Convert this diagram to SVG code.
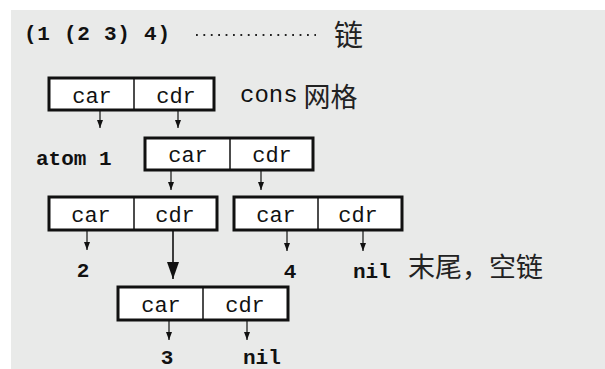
<svg xmlns="http://www.w3.org/2000/svg" width="605" height="369" viewBox="0 0 605 369">
  <style>
    .bg { fill: #e9eae9; }
    .cell { fill: #ffffff; stroke: #111111; stroke-width: 3; }
    .div { stroke: #111111; stroke-width: 1.5; }
    .mono { font-family: "Liberation Mono", "Courier New", monospace; fill: #111111; }
    .lbl { font-family: "Liberation Mono", "Courier New", monospace; font-weight: bold; fill: #111111; font-size: 21px; }
    .cjk { font-family: "Noto Sans CJK SC", "Noto Sans", sans-serif; fill: #222222; }
    .ctext { font-family: "Liberation Mono", "Courier New", monospace; font-size: 22px; fill: #111111; text-anchor: middle; }
    .arr { stroke: #111111; stroke-width: 1.2; fill: none; marker-end: url(#ah); }
    .big { stroke: #111111; stroke-width: 1.6; fill: none; marker-end: url(#bh); }
  </style>
  <defs>
    <marker id="ah" markerUnits="userSpaceOnUse" markerWidth="8" markerHeight="6" refX="8" refY="3" orient="auto">
      <path d="M0,0 L8,3 L0,6 z" fill="#111111"/>
    </marker>
    <marker id="bh" markerUnits="userSpaceOnUse" markerWidth="17" markerHeight="12" refX="17" refY="6" orient="auto">
      <path d="M0,0 L17,6 L0,12 z" fill="#111111"/>
    </marker>
  </defs>

  <rect class="bg" x="11" y="10" width="594" height="359"/>

  <g id="title">
    <text class="lbl" x="24" y="40" font-size="22" textLength="146" lengthAdjust="spacing">(1 (2 3) 4)</text>
    <line x1="196" y1="35" x2="316" y2="35" stroke="#222222" stroke-width="1.8" stroke-dasharray="1.8 5.6"/>
    <text class="cjk" x="334" y="46" font-size="29">链</text>
  </g>

  <g id="cons1">
    <rect class="cell" x="49" y="78" width="165" height="32"/>
    <line class="div" x1="134" y1="78" x2="134" y2="110"/>
    <text class="ctext" x="92" y="103">car</text>
    <text class="ctext" x="176" y="103">cdr</text>
  </g>
  <g id="cons-label">
    <text x="240" y="102" class="mono" font-size="24">cons<tspan class="cjk" font-size="27" dx="6" dy="5">网格</tspan></text>
  </g>

  <g id="cons2">
    <rect class="cell" x="145" y="138" width="168" height="32"/>
    <line class="div" x1="230" y1="138" x2="230" y2="170"/>
    <text class="ctext" x="188" y="162">car</text>
    <text class="ctext" x="272" y="162">cdr</text>
  </g>

  <g id="cons3">
    <rect class="cell" x="49" y="197" width="168" height="33"/>
    <line class="div" x1="134" y1="197" x2="134" y2="230"/>
    <text class="ctext" x="91" y="222">car</text>
    <text class="ctext" x="175" y="222">cdr</text>
  </g>

  <g id="cons4">
    <rect class="cell" x="234" y="197" width="168" height="33"/>
    <line class="div" x1="318" y1="197" x2="318" y2="230"/>
    <text class="ctext" x="276" y="222">car</text>
    <text class="ctext" x="358" y="222">cdr</text>
  </g>

  <g id="cons5">
    <rect class="cell" x="118" y="287" width="170" height="33"/>
    <line class="div" x1="203" y1="287" x2="203" y2="320"/>
    <text class="ctext" x="161" y="312">car</text>
    <text class="ctext" x="245" y="312">cdr</text>
  </g>

  <g id="atom1"><text class="lbl" x="36" y="165">atom 1</text></g>
  <g id="atom2"><text class="lbl" x="83" y="277" text-anchor="middle">2</text></g>
  <g id="atom4"><text class="lbl" x="290" y="278" text-anchor="middle">4</text></g>
  <g id="nil1">
    <text class="lbl" x="353" y="278" font-size="22">nil</text>
    <text class="cjk" x="408" y="277" font-size="27">末尾，空链</text>
  </g>
  <g id="atom3"><text class="lbl" x="167" y="364" text-anchor="middle">3</text></g>
  <g id="nil2"><text class="lbl" x="243" y="364" font-size="22">nil</text></g>

  <g id="connectors">
    <line class="arr" x1="100" y1="110" x2="100" y2="128"/>
    <line class="arr" x1="178" y1="110" x2="178" y2="128"/>
    <line class="arr" x1="171" y1="170" x2="171" y2="190"/>
    <line class="arr" x1="261" y1="170" x2="261" y2="190"/>
    <line class="arr" x1="87" y1="230" x2="87" y2="250"/>
    <line class="big" x1="173" y1="230" x2="173" y2="279"/>
    <line class="arr" x1="287" y1="230" x2="287" y2="251"/>
    <line class="arr" x1="363" y1="230" x2="363" y2="251"/>
    <line class="arr" x1="169" y1="320" x2="169" y2="340"/>
    <line class="arr" x1="247" y1="320" x2="247" y2="340"/>
  </g>
</svg>
